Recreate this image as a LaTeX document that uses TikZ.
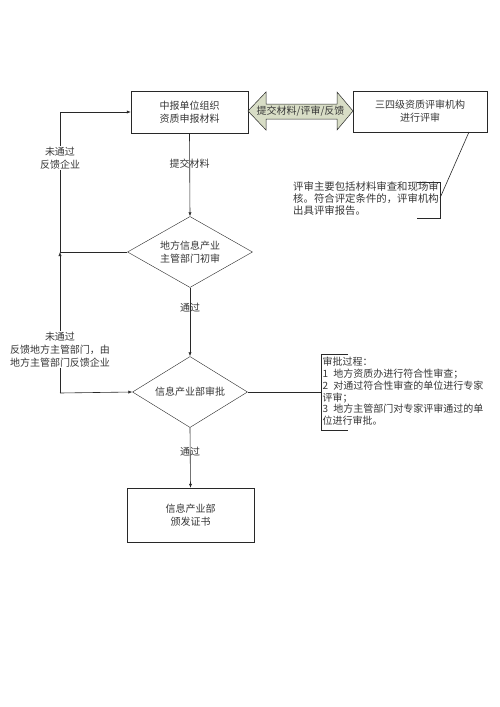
\documentclass[tikz,border=0pt]{standalone}
\usepackage{fontspec}
\setmainfont{Noto Sans CJK SC}
\usetikzlibrary{shapes.geometric,arrows.meta}
\definecolor{linec}{RGB}{40,40,40}
\definecolor{txt}{RGB}{55,55,55}
\definecolor{arrowfill}{RGB}{216,221,198}
\begin{document}
\begin{tikzpicture}[x=1pt,y=-1pt,
  every node/.style={text=txt,font=\fontsize{10pt}{13pt}\selectfont},
  box/.style={draw=linec,rectangle,inner sep=0pt,align=center},
  dia/.style={draw=linec,diamond,inner sep=0pt,align=center},
  lab/.style={align=center,inner sep=1pt},
  note/.style={align=left,inner sep=0pt,anchor=north west,font=\fontsize{10pt}{11.8pt}\selectfont},
  conn/.style={draw=linec,line width=0.6pt},
  arr/.style={conn,-{Latex[length=4pt,width=3.2pt]}}]
\useasboundingbox (0,0) rectangle (500,707);
\fill[white] (0,0) rectangle (500,707);

% boxes
\node[box,minimum width=117pt,minimum height=42pt] (b1) at (189.5,112) {中报单位组织\\资质申报材料};
\node[box,minimum width=134pt,minimum height=41pt] (b2) at (420,111.5) {三四级资质评审机构\\进行评审};
\node[box,minimum width=127pt,minimum height=54pt] (b3) at (190.5,515) {信息产业部\\颁发证书};

% diamonds
\node[dia,minimum width=125pt,minimum height=71pt,aspect=1.76] (d1) at (190,252) {地方信息产业\\主管部门初审};
\node[dia,minimum width=115pt,minimum height=71pt,aspect=1.62] (d2) at (190,392) {信息产业部审批};

% double arrow
\draw[draw=linec,line width=0.5pt,fill=arrowfill]
  (248,111) -- (266,92) -- (266,104) -- (337,104) -- (337,92) -- (353,111)
  -- (337,130) -- (337,119) -- (266,119) -- (266,130) -- cycle;
\node[inner sep=0pt] (dbl) at (300.5,111.5) {提交材料/评审/反馈};

% main flow
\draw[arr] (b1.south) -- node[lab,pos=0.37]{提交材料} (d1.north);
\draw[arr] (d1.south) -- node[lab,pos=0.29]{通过} (d2.north);
\draw[arr] (d2.south) -- node[lab,pos=0.4]{通过} (b3.north);

% feedback loops
\coordinate (j1) at (60,252);
\coordinate (c1) at (60,112);
\coordinate (c2) at (60,393);
\draw[conn] (d1.west) -- (j1);
\draw[arr] (j1) -- node[lab,pos=0.67,fill=white]{未通过\\反馈企业} (c1) -- (b1.west);
\draw[arr] (c2) -- node[lab,pos=0.31,fill=white]{未通过\\反馈地方主管部门，由\\地方主管部门反馈企业} (j1);
\draw[arr] (c2) -- (d2.west);

% note 1
\coordinate (n1top) at (417,182);
\coordinate (n1v1) at (440,182);
\coordinate (n1v2) at (440,218);
\coordinate (n1bot) at (417,218);
\coordinate (n1m) at (440,198);
\coordinate (b2foot) at (469,132);
\draw[conn] (n1top) -- (n1v1) -- (n1v2) -- (n1bot);
\draw[conn] (b2foot) -- (n1m);
\node[note,font=\fontsize{10.4pt}{11.8pt}\selectfont] (n1) at (293,181.5) {评审主要包括材料审查和现场审\\核。符合评定条件的，评审机构\\出具评审报告。};

% note 2
\coordinate (n2top) at (348,354);
\coordinate (n2v1) at (321,354);
\coordinate (n2v2) at (321,430);
\coordinate (n2bot) at (348,430);
\coordinate (n2m) at (321,392);
\draw[conn] (n2top) -- (n2v1) -- (n2v2) -- (n2bot);
\draw[conn] (d2.east) -- (n2m);
\node[note] (n2) at (322.5,357) {审批过程：\\1\hspace{5pt}地方资质办进行符合性审查；\\2\hspace{5pt}对通过符合性审查的单位进行专家\\评审；\\3\hspace{5pt}地方主管部门对专家评审通过的单\\位进行审批。};
\end{tikzpicture}
\end{document}
